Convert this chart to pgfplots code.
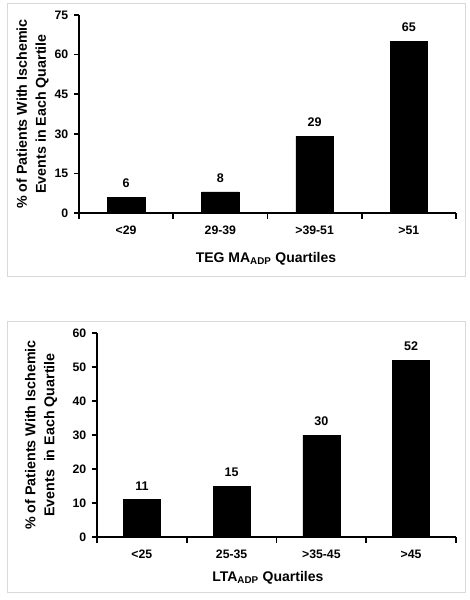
\documentclass[border=0pt]{standalone}
\usepackage{pgfplots}
\pgfplotsset{compat=1.18}
\usepackage{fontspec}
\setmainfont{Liberation Sans}
\begin{document}
\begin{tikzpicture}[x=0.75pt,y=0.75pt]
\path[use as bounding box, fill=white] (0,0) rectangle (470,600);
\draw[color=black!15, line width=0.75pt] (7,323) rectangle (465,596);
\draw[color=black!15, line width=0.75pt] (7,7) rectangle (465,278);
\coordinate (A) at (79,387);
\coordinate (B) at (97,63);
\pgfplotsset{
  myaxis/.style={
    scale only axis,
    axis x line*=bottom,
    axis y line*=left,
    axis line style={line width=1.2pt, -},
    xmin=-0.5, xmax=3.5,
    ymin=0,
    xtick={0,1,2,3},
    major x tick style={draw=none},
    minor xtick={-0.5,0.5,1.5,2.5,3.5},
    minor tick length=4.5pt,
    tick align=outside,
    major tick length=3.5pt,
    tick style={line width=1.2pt, black},
    /pgf/number format/assume math mode=true,
    tick label style={font=\fontsize{9.2}{11}\selectfont\bfseries},
    yticklabel style={xshift=-1pt},
    xticklabel style={yshift=-3pt},
    xlabel style={font=\fontsize{10.5}{12}\selectfont\bfseries, anchor=center},
    ylabel style={font=\fontsize{10.7}{14.25}\selectfont\bfseries, anchor=center, align=center},
    nodes near coords,
    every node near coord/.append style={font=\fontsize{9.4}{11}\selectfont\bfseries, yshift=3.5pt},
  }
}
\begin{axis}[myaxis,
  at={(A)}, anchor=south west,
  width=282.75pt, height=148.5pt,
  ymax=75, ytick={0,15,30,45,60,75},
  xticklabels={{<29},{29-39},{>39-51},{>51}},
  xlabel={TEG MA\textsubscript{ADP} Quartiles},
  xlabel style={at={(axis description cs:0.496,-0.232)}},
  ylabel={\% of Patients With Ischemic\\Events in Each Quartile},
  ylabel style={at={(axis description cs:-0.123,0.5)}},
]
\addplot[ybar, bar width=0.4, fill=black, draw=black] coordinates {(0,6) (1,8) (2,29) (3,65)};
\end{axis}
\begin{axis}[myaxis,
  at={(B)}, anchor=south west,
  width=269.25pt, height=153pt,
  ymax=60, ytick={0,10,20,30,40,50,60},
  xticklabels={{<25},{25-35},{>35-45},{>45}},
  xlabel={LTA\textsubscript{ADP} Quartiles},
  xlabel style={at={(axis description cs:0.476,-0.201)}},
  ylabel={\% of Patients With Ischemic\\Events \ in Each Quartile},
  ylabel style={at={(axis description cs:-0.156,0.5)}},
]
\addplot[ybar, bar width=0.41, fill=black, draw=black] coordinates {(0,11) (1,15) (2,30) (3,52)};
\end{axis}
\end{tikzpicture}
\end{document}
